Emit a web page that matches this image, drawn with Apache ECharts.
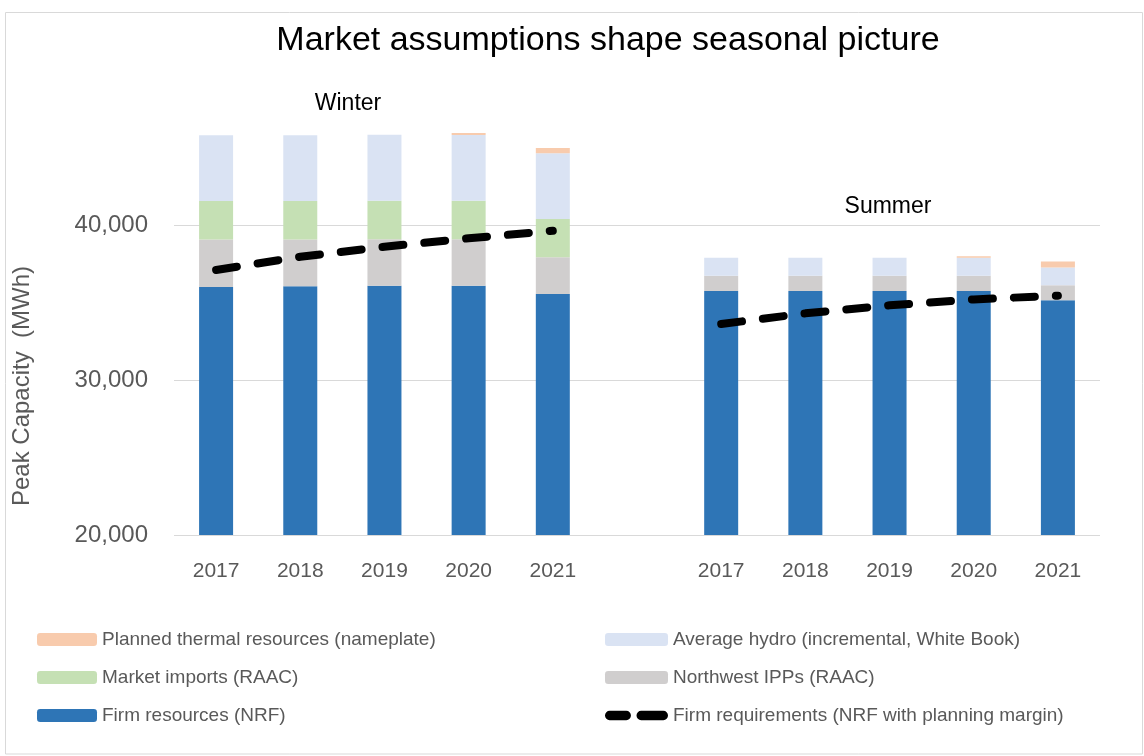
<!DOCTYPE html>
<html>
<head>
<meta charset="utf-8">
<script src="https://cdn.jsdelivr.net/npm/echarts@6/dist/echarts.min.js"></script>
<style>
  html, body { margin: 0; padding: 0; background: #fff; }
  #chart { width: 1144px; height: 756px; }
</style>
</head>
<body>
<div id="chart"></div>
<script>
// x categories: winter years, an empty gap, summer years
const years = ['2017', '2018', '2019', '2020', '2021', '', '2017', '2018', '2019', '2020', '2021']
// stacked parts, bottom to top (MWh)
const firmResources = [36000, 36050, 36080, 36080, 35550, null, 35750, 35750, 35750, 35750, 35150]
const northwestIpps = [3060, 3010, 3000, 3000, 2370, null, 970, 970, 970, 970, 970]
const marketImports = [2490, 2490, 2490, 2490, 2470, null, 0, 0, 0, 0, 0]
const averageHydro = [4240, 4240, 4260, 4240, 4240, null, 1160, 1160, 1160, 1160, 1140]
const plannedThermal = [0, 0, 0, 130, 340, null, 0, 0, 0, 100, 390]
// dashed requirement line
const firmRequirements = [37100, 37950, 38600, 39140, 39630, null, 33610, 34300, 34820, 35200, 35440]

const grey = '#595959'
const font = 'Liberation Sans, Arial, sans-serif'
// two rounded dashes for the legend entry of the requirement line
const dashIcon = 'path://M5,0H23A5,5 0 0 1 23,10H5A5,5 0 0 1 5,0Z M39,0H63A5,5 0 0 1 63,10H39A5,5 0 0 1 39,0Z'

function barSeries (name, data, color) {
    return {
        name: name,
        type: 'bar',
        stack: 'total',
        data: data,
        barWidth: 34,
        itemStyle: { color: color },
        emphasis: { disabled: true }
    }
}

function label (text, x, y, size, color, rotation) {
    return {
        type: 'text', x: x, y: y, rotation: rotation || 0,
        style: { text: text, textAlign: 'center', textVerticalAlign: 'middle', font: size + 'px ' + font, fill: color }
    }
}

const chart = echarts.init(document.getElementById('chart'))
const option = {
    animation: false,
    textStyle: { fontFamily: font },
    graphic: [
        {
            type: 'rect',
            shape: { x: 5.5, y: 12.5, width: 1137, height: 741.5 },
            style: { fill: 'none', stroke: '#d9d9d9', lineWidth: 1 }
        },
        label('Market assumptions shape seasonal picture', 608, 41, 34, '#000'),
        label('Winter', 348, 104, 23, '#000'),
        label('Summer', 888, 207, 23, '#000'),
        label('Peak Capacity  (MWh)', 22, 386, 24, grey, Math.PI / 2)
    ],
    legend: [
        {
            orient: 'vertical',
            left: 37,
            top: 630,
            padding: 0,
            itemWidth: 60,
            itemHeight: 13,
            itemGap: 19,
            textStyle: { color: grey, fontSize: 19, fontFamily: font },
            data: ['Planned thermal resources (nameplate)', 'Market imports (RAAC)', 'Firm resources (NRF)']
        },
        {
            orient: 'vertical',
            left: 605,
            top: 630,
            padding: 0,
            itemWidth: 63,
            itemHeight: 13,
            itemGap: 19,
            textStyle: { color: grey, fontSize: 19, fontFamily: font },
            data: [
                'Average hydro (incremental, White Book)',
                'Northwest IPPs (RAAC)',
                { name: 'Firm requirements (NRF with planning margin)', icon: dashIcon }
            ]
        }
    ],
    grid: { left: 174, right: 44, top: 70, bottom: 221, outerBoundsMode: 'none' },
    xAxis: {
        type: 'category',
        data: years,
        axisLine: { show: false },
        axisTick: { show: false },
        axisLabel: { color: grey, fontSize: 21, margin: 26, interval: 0 }
    },
    yAxis: {
        type: 'value',
        min: 20000,
        max: 50000,
        interval: 10000,
        axisLine: { show: false },
        axisTick: { show: false },
        axisLabel: {
            color: grey,
            fontSize: 24,
            margin: 26,
            showMaxLabel: false,
            formatter: function (v) { return v.toLocaleString('en-US') }
        },
        splitLine: { showMaxLine: false, lineStyle: { color: '#d9d9d9', width: 1 } }
    },
    series: [
        barSeries('Firm resources (NRF)', firmResources, '#2e75b6'),
        barSeries('Northwest IPPs (RAAC)', northwestIpps, '#d0cece'),
        barSeries('Market imports (RAAC)', marketImports, '#c5e0b4'),
        barSeries('Average hydro (incremental, White Book)', averageHydro, '#dae3f3'),
        barSeries('Planned thermal resources (nameplate)', plannedThermal, '#f8cbad'),
        {
            name: 'Firm requirements (NRF with planning margin)',
            type: 'line',
            data: firmRequirements,
            showSymbol: false,
            symbol: 'none',
            z: 5,
            lineStyle: { color: '#000', width: 8, type: [21, 21], cap: 'round' },
            itemStyle: { color: '#000' }
        }
    ]
}
chart.setOption(option)
</script>
</body>
</html>
